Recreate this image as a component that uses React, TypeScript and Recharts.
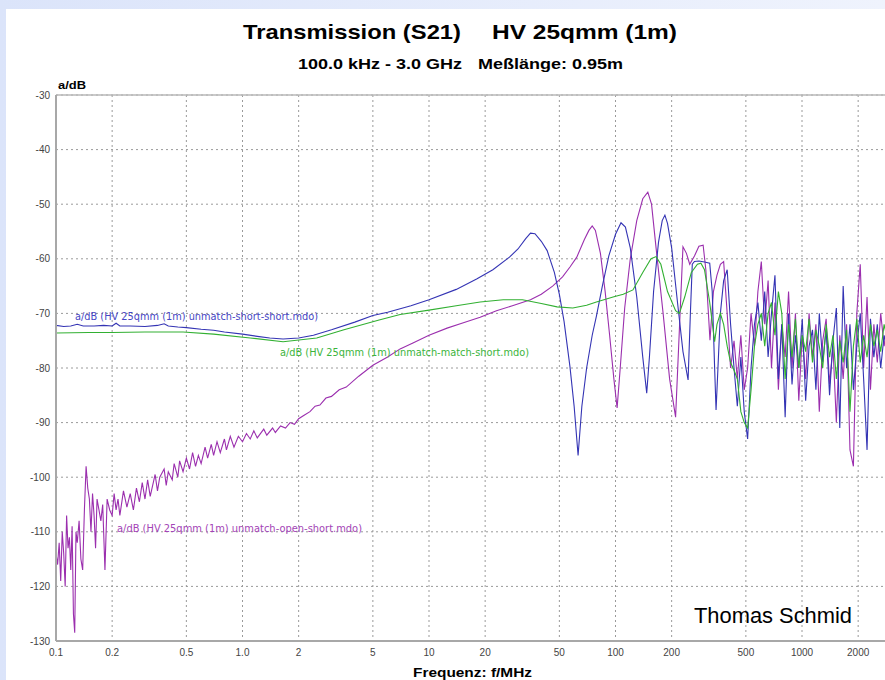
import React from 'react';
import { LineChart, Line, XAxis, YAxis, CartesianGrid, ReferenceLine } from 'recharts';

// ---- tick labels ----
const xTicks = [0.1, 0.2, 0.5, 1, 2, 5, 10, 20, 50, 100, 200, 500, 1000, 2000];
const yTicks = [-130, -120, -110, -100, -90, -80, -70, -60, -50, -40, -30];

// ---- shared high-frequency grid (MHz) ----
const hfFreq = [350, 365, 380, 397, 414, 432, 450, 470, 490, 511, 533, 556, 580, 605, 631, 658, 686, 716, 747, 779, 812, 847, 884, 922, 961, 1003, 1046, 1091, 1138, 1187, 1238, 1291, 1347, 1405, 1465, 1528, 1594, 1662, 1734, 1808, 1886, 1967, 2052, 2140, 2232, 2328, 2428, 2533, 2642, 2755, 2874, 3000];

// ---- unmatch-short-short (blue) ----
const blueFreq = [0.1, 0.11, 0.12, 0.13, 0.14, 0.16, 0.18, 0.2, 0.21, 0.22, 0.25, 0.3, 0.35, 0.38, 0.4, 0.45, 0.5, 0.6, 0.7, 0.8, 1.0, 1.2, 1.4, 1.65, 2.0, 2.4, 3, 4, 5, 6, 8, 10, 14, 18, 22, 27, 30, 33, 35, 37, 40, 43, 47, 50, 53, 57, 60, 63, 66, 70, 75, 79, 85, 92, 100, 107, 113, 120, 130, 140, 147, 152, 160, 170, 178, 184, 190, 200, 215, 230, 245, 252, 258, 265, 280, 300, 320, 330, 340, 346];
const blueDb = [-72.2, -72.4, -72.3, -72.0, -72.3, -72.3, -72.2, -72.3, -71.8, -72.3, -72.3, -72.4, -72.2, -71.9, -72.3, -72.5, -72.6, -72.9, -73.1, -73.4, -73.8, -74.2, -74.5, -74.7, -74.5, -74.0, -73.0, -71.6, -70.4, -69.8, -68.6, -67.5, -65.6, -63.7, -62.0, -59.7, -58.2, -56.3, -55.3, -55.4, -56.8, -58.5, -62.5, -66.5, -71.5, -79.8, -87, -96, -87, -80, -74, -70.5, -65, -59.5, -55.5, -53.4, -54.2, -58, -67, -78, -84.6, -78, -66, -57, -53, -52, -53.5, -58, -68, -77, -82.2, -70, -61, -60.5, -60.4, -60.6, -60.8, -66, -80, -87.7];
const blueHfDb = [-84, -70, -64, -62, -72, -80, -87, -78, -88, -93, -80, -72, -68, -75, -66, -78, -70, -63, -82, -72, -89, -70, -83, -74, -80, -71, -86, -76, -73, -84, -70, -79, -73, -85, -75, -69, -91, -65, -80, -72, -84, -76, -70, -82, -95, -71, -78, -72, -80, -74, -77, -73];

// ---- unmatch-match-short (green) ----
const greenFreq = [0.1, 0.15, 0.2, 0.3, 0.48, 0.7, 1.1, 1.65, 2.5, 3.5, 5.4, 7, 10, 14, 18.8, 25, 31.7, 40, 48.6, 59, 70, 79, 97, 110, 124, 140, 155, 165, 175, 190, 210, 220, 235, 255, 275, 287, 300, 320, 340];
const greenDb = [-73.6, -73.5, -73.5, -73.4, -73.4, -73.8, -74.5, -75.2, -74.5, -73.0, -71.2, -70.2, -69.4, -68.6, -67.9, -67.5, -67.5, -68.2, -68.8, -69.0, -68.5, -67.9, -67.0, -66.5, -65.7, -62.5, -60.0, -59.6, -61.0, -66.0, -69.5, -70.0, -67.0, -62.5, -61.0, -60.8, -62.0, -68.0, -75.2];
const greenHfDb = [-72, -70, -72, -76, -79, -80.4, -82, -88, -90, -91, -84, -76, -72, -70, -76, -70, -68, -74, -66, -70, -82, -72, -78, -71, -80, -74, -77, -71, -79, -73, -76, -80, -72, -78, -74, -82, -75, -79, -73, -88, -76, -71, -79, -74, -78, -72, -76, -73, -77, -72, -75, -73];

// ---- unmatch-open-short (purple) ----
const purpleLowFreq = [0.1, 0.102, 0.104, 0.106, 0.108, 0.11, 0.112, 0.114, 0.116, 0.118, 0.12, 0.122, 0.124, 0.126, 0.128, 0.13, 0.133, 0.136, 0.139, 0.142, 0.145, 0.148, 0.151, 0.154, 0.157, 0.16, 0.163, 0.166, 0.17, 0.174, 0.178, 0.183, 0.188, 0.194];
const purpleLowDb = [-114, -116, -112, -119, -110, -114, -120, -107, -113, -111, -117, -109, -125, -128.5, -110, -112, -108, -115, -117, -106, -98, -102, -104, -110, -103, -107, -113, -104, -106, -108, -105, -117, -104, -106];
const purpleRiseFreq = [0.2, 0.205, 0.21, 0.215, 0.22, 0.23, 0.24, 0.25, 0.26, 0.27, 0.28, 0.29, 0.3, 0.31, 0.32, 0.34, 0.35, 0.36, 0.38, 0.39, 0.4, 0.42, 0.43, 0.45, 0.46, 0.48, 0.5, 0.52, 0.54, 0.56, 0.58, 0.6, 0.63, 0.65, 0.68, 0.7, 0.73, 0.76, 0.8, 0.82, 0.86, 0.9, 0.95, 1.0, 1.05, 1.1, 1.15, 1.2, 1.3, 1.35, 1.45, 1.5, 1.6, 1.7, 1.8, 1.9, 2.0];
const purpleRiseDb = [-107, -103, -106, -104, -107, -102.5, -105.5, -103, -106, -102, -104.5, -101, -104, -100.5, -103.5, -99.5, -102.5, -100, -98.5, -101.5, -99, -100.5, -97.5, -100, -97, -99, -96.5, -98.5, -95.5, -98, -96, -97.5, -94.5, -96.5, -94, -96, -93.5, -95.5, -93, -95, -92.5, -94.5, -92.5, -93.5, -92, -93, -91.5, -92.8, -91.2, -92.3, -91, -91.8, -90.6, -91, -90, -90.3, -89.3];
const purpleMidFreq = [2.15, 2.3, 2.45, 2.6, 2.8, 3.0, 3.3, 3.6, 4.2, 5, 6, 7, 8.2, 10, 12.5, 15, 18.8, 23, 28, 35, 40, 46, 52, 57, 62, 68, 72, 75, 78, 83, 88, 93, 98, 102, 106, 112, 120, 130, 140, 149, 156, 165, 180, 195, 210, 220, 230, 240, 250, 265, 280, 295, 305, 321, 335];
const purpleMidDb = [-88.6, -88, -87, -86.8, -85.5, -85.2, -84, -83.5, -81.5, -79.5, -78, -76.5, -75.4, -74, -72.7, -71.8, -70.7, -69.5, -68.6, -67.5, -66.5, -65, -63.3, -61.5, -59.7, -56.5, -54.8, -54, -54.8, -59, -66, -74, -82, -87.3, -80, -69, -60, -53, -49, -47.8, -50, -58, -70, -82, -89, -73, -57.8, -59, -61, -59.5, -57.7, -57.5, -62, -74.9, -66];
const purpleHfDb = [-63, -61, -60.5, -70, -80, -75, -82, -74, -84, -80, -70, -76, -66, -60.5, -72, -64, -80, -68, -84, -72, -78, -66, -80, -70, -86, -74, -82, -70, -78, -72, -88, -75, -71, -83, -76, -90, -74, -82, -72, -95, -98, -70, -61, -80, -67, -84, -72, -79, -70, -76, -72, -75];

function build(lf: number[], lv: number[], hv: number[]) {
  const out = lf.map((f, i) => ({ f, v: lv[i] }));
  hfFreq.forEach((f, i) => out.push({ f, v: hv[i] }));
  return out;
}

const blueData = build(blueFreq, blueDb, blueHfDb);
const greenData = build(greenFreq, greenDb, greenHfDb);
const purpleData = build(
  [...purpleLowFreq, ...purpleRiseFreq, ...purpleMidFreq],
  [...purpleLowDb, ...purpleRiseDb, ...purpleMidDb],
  purpleHfDb
);

const fmtX = (v: number) => (v === 1 ? '1.0' : String(v));

export default function App() {
  return (
    <div
      style={{
        position: 'absolute',
        left: 0,
        top: 0,
        width: 885,
        height: 680,
        overflow: 'hidden',
        background: 'linear-gradient(to right, #dbe4fa, #eff3fd)',
      }}
    >
      <div style={{ position: 'absolute', left: 6, top: 9, right: 0, bottom: 0, background: '#ffffff' }} />
      <div style={{ position: 'absolute', left: 0, top: 0 }}>
        <LineChart width={900} height={680} margin={{ top: 95, right: 9, bottom: 0, left: 0 }}>
          <CartesianGrid stroke="#9a9a9a" strokeDasharray="2 3" strokeWidth={1} />
          <XAxis
            dataKey="f"
            type="number"
            scale="log"
            domain={[0.1, 3000]}
            allowDataOverflow
            ticks={xTicks}
            tickFormatter={fmtX}
            height={39}
            tickLine={false}
            tickMargin={2}
            axisLine={{ stroke: '#a8a8a8', strokeWidth: 2 }}
            tick={{ fill: '#444', fontSize: 10, fontFamily: 'Liberation Sans, Arial, sans-serif' }}
            interval={0}
          />
          <YAxis
            type="number"
            domain={[-130, -30]}
            ticks={yTicks}
            width={56}
            tickLine={false}
            tickMargin={0}
            axisLine={{ stroke: '#a8a8a8', strokeWidth: 2 }}
            tick={{ fill: '#444', fontSize: 10, fontFamily: 'Liberation Sans, Arial, sans-serif' }}
            interval={0}
          />
          <ReferenceLine y={-30} stroke="#b8b8b8" strokeWidth={1.5} />
          <Line data={purpleData} dataKey="v" type="linear" stroke="#9b2fae" strokeWidth={1.1} dot={false} isAnimationActive={false} />
          <Line data={blueData} dataKey="v" type="linear" stroke="#3434b4" strokeWidth={1.1} dot={false} isAnimationActive={false} />
          <Line data={greenData} dataKey="v" type="linear" stroke="#32b032" strokeWidth={1.1} dot={false} isAnimationActive={false} />
        </LineChart>
      </div>
      <svg
        width={885}
        height={680}
        style={{ position: 'absolute', left: 0, top: 0, pointerEvents: 'none' }}
      >
        <g fontFamily="Liberation Sans, Arial, sans-serif" fill="#000">
          <text x={243} y={39} fontSize={21} fontWeight="bold" textLength={218} lengthAdjust="spacingAndGlyphs">Transmission (S21)</text>
          <text x={492} y={39} fontSize={21} fontWeight="bold" textLength={185} lengthAdjust="spacingAndGlyphs">HV 25qmm (1m)</text>
          <text x={298} y={69} fontSize={14} fontWeight="bold" textLength={164} lengthAdjust="spacingAndGlyphs">100.0 kHz - 3.0 GHz</text>
          <text x={478} y={69} fontSize={14} fontWeight="bold" textLength={145} lengthAdjust="spacingAndGlyphs">Meßlänge: 0.95m</text>
          <text x={58} y={89} fontSize={11} fontWeight="bold" textLength={28} lengthAdjust="spacingAndGlyphs">a/dB</text>
          <text x={413} y={677} fontSize={12} fontWeight="bold" textLength={119} lengthAdjust="spacingAndGlyphs">Frequenz: f/MHz</text>
          <text x={694} y={623} fontSize={22} textLength={158} lengthAdjust="spacingAndGlyphs">Thomas Schmid</text>
        </g>
        <g fontFamily="DejaVu Sans, Verdana, sans-serif" fontSize={10.5}>
          <text x={75} y={320} fill="#4646c4" textLength={243} lengthAdjust="spacingAndGlyphs">a/dB (HV 25qmm (1m) unmatch-short-short.mdo)</text>
          <text x={280} y={356} fill="#3cb43c" textLength={249} lengthAdjust="spacingAndGlyphs">a/dB (HV 25qmm (1m) unmatch-match-short.mdo)</text>
          <text x={117} y={532} fill="#a344b6" textLength={245} lengthAdjust="spacingAndGlyphs">a/dB (HV 25qmm (1m) unmatch-open-short.mdo)</text>
        </g>
      </svg>
    </div>
  );
}
